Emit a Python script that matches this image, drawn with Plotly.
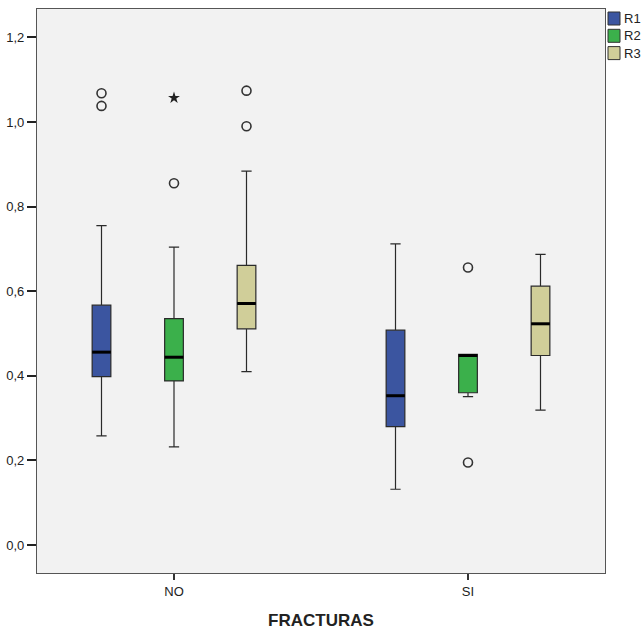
import plotly.graph_objects as go

# Group categories and series
categories = ["NO", "SI"]
series = ["R1", "R2", "R3"]
colors = {"R1": "#3B55A0", "R2": "#3BB04B", "R3": "#D0CE99"}

# Five-number summaries per series, one value per category (NO, SI)
q1 = {"R1": [0.398, 0.280], "R2": [0.388, 0.360], "R3": [0.511, 0.448]}
median = {"R1": [0.456, 0.353], "R2": [0.444, 0.448], "R3": [0.571, 0.523]}
q3 = {"R1": [0.567, 0.508], "R2": [0.535, 0.451], "R3": [0.661, 0.612]}
lower = {"R1": [0.258, 0.132], "R2": [0.232, 0.351], "R3": [0.410, 0.319]}
upper = {"R1": [0.755, 0.712], "R2": [0.704, 0.451], "R3": [0.884, 0.687]}

# Outliers (circles) and extreme values (stars), per series and category
outliers = {
    "R1": [[1.068, 1.038], []],
    "R2": [[0.855], [0.656, 0.195]],
    "R3": [[1.074, 0.990], []],
}
extremes = {
    "R1": [[], []],
    "R2": [[1.057], []],
    "R3": [[], []],
}

offsets = {"R1": -0.2466, "R2": 0.0, "R3": 0.2466}
box_w = 0.0636

W, H = 643, 630
M = dict(l=37, r=38, t=9, b=57)

fig = go.Figure()

for s in series:
    for ci, cat in enumerate(categories):
        pos = ci + offsets[s]
        fig.add_trace(go.Box(
            x=[pos], q1=[q1[s][ci]], median=[median[s][ci]], q3=[q3[s][ci]],
            lowerfence=[lower[s][ci]], upperfence=[upper[s][ci]],
            width=box_w, whiskerwidth=0.55,
            fillcolor=colors[s], line=dict(color="#2a2a2a", width=1.2),
            boxpoints=False, showlegend=False, hoverinfo="skip",
        ))
        # heavy median bar
        fig.add_trace(go.Scatter(
            x=[pos - box_w / 2, pos + box_w / 2],
            y=[median[s][ci], median[s][ci]],
            mode="lines", line=dict(color="black", width=3),
            showlegend=False, hoverinfo="skip",
        ))
        if outliers[s][ci]:
            fig.add_trace(go.Scatter(
                x=[pos] * len(outliers[s][ci]), y=outliers[s][ci],
                mode="markers",
                marker=dict(symbol="circle-open", size=9, color="#333333",
                            line=dict(width=1.6, color="#333333")),
                showlegend=False, hoverinfo="skip",
            ))
        if extremes[s][ci]:
            fig.add_trace(go.Scatter(
                x=[pos] * len(extremes[s][ci]), y=extremes[s][ci],
                mode="markers",
                marker=dict(symbol="star", size=9, color="#222222"),
                showlegend=False, hoverinfo="skip",
            ))

# Legend drawn in the right margin as swatches + labels (paper coords)
pw = W - M["l"] - M["r"]
ph = H - M["t"] - M["b"]


def px_x(px):
    return (px - M["l"]) / pw


def px_y(py):
    return (H - M["b"] - py) / ph


shapes, annotations = [], []
for i, s in enumerate(series):
    top = 12 + i * 17.3
    shapes.append(dict(
        type="rect", xref="paper", yref="paper",
        x0=px_x(608), x1=px_x(620), y0=px_y(top + 13), y1=px_y(top),
        fillcolor=colors[s], line=dict(color="#333333", width=1),
    ))
    annotations.append(dict(
        xref="paper", yref="paper", x=px_x(622), y=px_y(top + 6.5),
        xanchor="left", yanchor="middle", text=s, showarrow=False,
        font=dict(size=13, color="#222222"),
    ))

fig.update_layout(
    width=W, height=H,
    margin=M,
    paper_bgcolor="white", plot_bgcolor="#F2F2F2",
    separators=",.",
    showlegend=False,
    font=dict(family="Liberation Sans, Arial, sans-serif", size=12.5, color="#222222"),
    shapes=shapes, annotations=annotations,
)
fig.update_xaxes(
    range=[-0.466, 1.466], tickvals=[0, 1], ticktext=categories,
    showgrid=False, zeroline=False, showline=True, mirror=True,
    linecolor="#555555", linewidth=1.2, automargin=False,
    ticks="outside", ticklen=6, tickcolor="#333333", tickwidth=1.5,
    tickfont=dict(size=13),
    title=dict(text="<b>FRACTURAS</b>", font=dict(size=17, color="#222222"), standoff=18),
)
fig.update_yaxes(
    range=[-0.066, 1.267], tickvals=[0, 0.2, 0.4, 0.6, 0.8, 1.0, 1.2],
    tickformat=".1f", showgrid=False, zeroline=False, showline=True, mirror=True,
    linecolor="#555555", linewidth=1.2, tickfont=dict(size=13), automargin=False,
    ticks="outside", ticklen=9, tickcolor="#222222", tickwidth=1.5,
)

fig.write_html("out.html")
